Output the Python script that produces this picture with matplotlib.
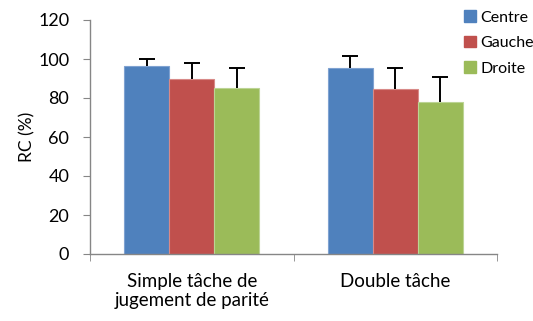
import matplotlib.pyplot as plt
from matplotlib.patches import Patch
import numpy as np

plt.rcParams['font.family'] = ['Lato', 'DejaVu Sans']

categories = ['Simple tâche de\njugement de parité', 'Double tâche']
series = ['Centre', 'Gauche', 'Droite']
means = {
    'Centre': [96.4, 95.2],
    'Gauche': [89.8, 84.8],
    'Droite': [85.3, 77.8],
}
errors = {
    'Centre': [3.4, 6.3],
    'Gauche': [8.0, 10.4],
    'Droite': [9.9, 13.1],
}
colors = ['#4F81BD', '#C0504D', '#9BBB59']
edges = ['#7FA2D1', '#D88A88', '#BCD495']

fig = plt.figure(figsize=(5.33, 3.21), dpi=100)
ax = fig.add_axes([90 / 533, 67 / 321, 407 / 533, 234 / 321])

x = np.arange(len(categories))
width = 0.221
for i, name in enumerate(series):
    pos = x + (i - 1) * width
    ax.bar(pos, means[name], width, color=colors[i], edgecolor=edges[i],
           linewidth=0.8, zorder=2)
    eb = ax.errorbar(pos, means[name], yerr=[np.zeros(len(x)), errors[name]],
                     fmt='none', ecolor='black', elinewidth=1.4, capsize=5.5,
                     capthick=1.4, zorder=3)
    # only the upper cap, like the original
    eb[1][0].set_visible(False)

ax.set_xlim(-0.5, 1.5)
ax.set_ylim(0, 120)
ax.set_yticks(range(0, 121, 20))
ax.set_xticks(x)
ax.set_xticklabels(categories, fontsize=13.5, linespacing=1.1)
ax.set_xticks([-0.5, 0.5, 1.5], minor=True)
ax.tick_params(axis='x', which='major', length=0, pad=14)
ax.tick_params(axis='x', which='minor', length=5, color='#868686')
ax.tick_params(axis='y', length=5, color='#868686', labelsize=13, pad=10)
ax.set_ylabel('RC (%)', fontsize=12.5, labelpad=2)

for s in ['top', 'right']:
    ax.spines[s].set_visible(False)
for s in ['left', 'bottom']:
    ax.spines[s].set_color('#868686')
    ax.spines[s].set_linewidth(1.0)

handles = [Patch(facecolor=c, edgecolor=c) for c in colors]
fig.legend(handles, series, loc='upper left', bbox_to_anchor=(461 / 533, 1 - 7 / 321),
           frameon=False, fontsize=11.5, handlelength=0.75, handleheight=0.75,
           handletextpad=0.25, labelspacing=0.7, borderaxespad=0, borderpad=0.2)

fig.savefig('out.png', dpi=100)
